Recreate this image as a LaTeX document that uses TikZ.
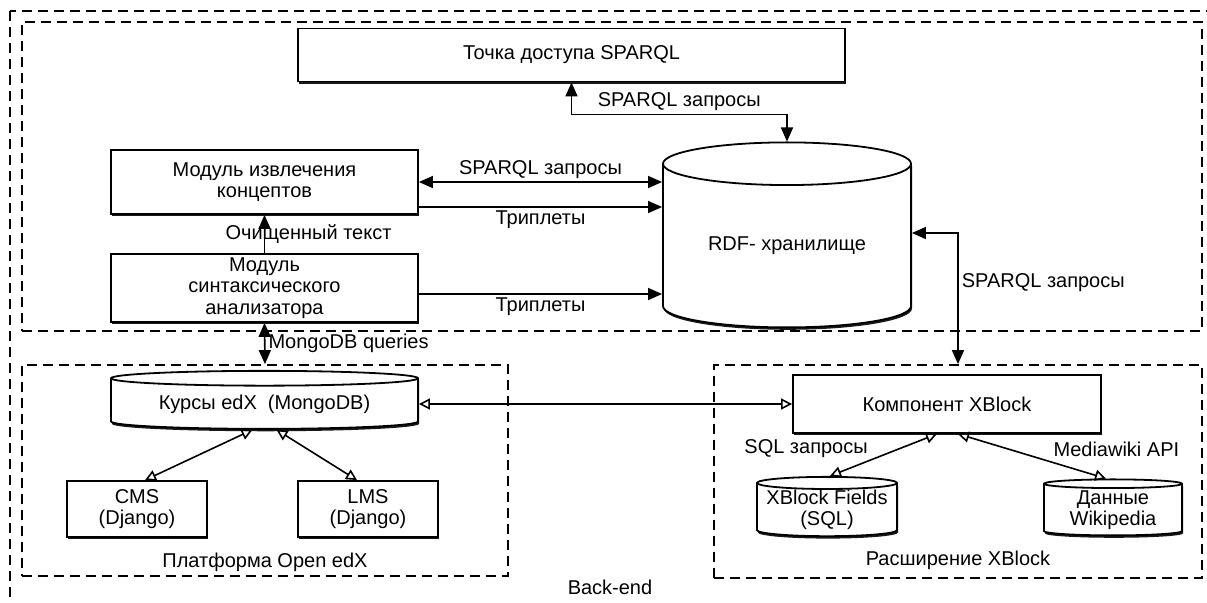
\documentclass[tikz,border=0pt]{standalone}
\usepackage{fontspec}
\setmainfont{Liberation Sans}
\usetikzlibrary{arrows.meta,shapes.geometric,shadows,calc}

\tikzset{
  block/.style={draw, line width=0.9pt, fill=white, align=center, inner sep=0pt,
    drop shadow={shadow xshift=0.5pt, shadow yshift=-1.2pt, opacity=0.9, fill=black}},
  store/.style={block, cylinder, shape border rotate=90},
  frame/.style={draw, line width=0.9pt, dash pattern=on 5pt off 3pt, inner sep=0pt},
  lbl/.style={inner sep=1.5pt},
  twoway/.style={line width=0.8pt, {Triangle[length=7pt,width=6pt]}-{Triangle[length=7pt,width=6pt]}},
  oneway/.style={line width=0.8pt, -{Triangle[length=7pt,width=6pt]}},
  hollow/.style={line width=0.8pt, {Triangle[open,length=5.5pt,width=5.5pt]}-{Triangle[open,length=5.5pt,width=5.5pt]}}
}

\begin{document}
\begin{tikzpicture}[x=0.5pt, y=-0.5pt, font=\fontsize{10}{10.8}\selectfont]
  \useasboundingbox (0,0) rectangle (1207,602);
  \clip (0,0) rectangle (1207,602);

  % frames
  \draw[frame] (10,11) rectangle (1240,640);
  \node[frame, minimum width=590pt, minimum height=154.5pt] (topframe) at (612,176.5) {};
  \node[frame, minimum width=243pt, minimum height=105.5pt] (edxframe) at (265,470.5) {};
  \node[frame, minimum width=244pt, minimum height=106.5pt] (xblframe) at (958,471.5) {};

  % upper part
  \node[block, minimum width=273.5pt, minimum height=26.5pt] (access) at (571.5,55) {Точка доступа SPARQL};
  \node[block, minimum width=153.5pt, minimum height=32pt] (concept) at (264.5,182) {Модуль извлечения\\концептов};
  \node[block, minimum width=153.5pt, minimum height=34pt] (parser) at (264.5,288) {Модуль\\синтаксического\\анализатора};
  \node[store, minimum width=124pt, minimum height=92.5pt, aspect=0.27] (rdf) at (787,246) {RDF- хранилище};

  % lower part
  \node[store, minimum width=153.5pt, minimum height=29pt, aspect=0.07] (mongo) at (264.5,404) {Курсы edX~~(MongoDB)};
  \node[block, minimum width=70pt, minimum height=28pt] (cms) at (137,509) {CMS\\(Django)};
  \node[block, minimum width=70pt, minimum height=28pt] (lms) at (368,509) {LMS\\(Django)};
  \node[block, minimum width=154pt, minimum height=29pt] (xblock) at (947,404) {Компонент XBlock};
  \node[store, minimum width=70pt, minimum height=28pt, aspect=0.1] (fields) at (827,510) {XBlock Fields\\(SQL)};
  \node[store, minimum width=69pt, minimum height=28pt, aspect=0.1] (wiki) at (1113,510) {Данные\\Wikipedia};

  \node[lbl, above=1pt] (edxname) at (edxframe.south) {Платформа Open edX};
  \node[lbl, above=3pt] (xblname) at (xblframe.south) {Расширение XBlock};
  \node[lbl] (backend) at (610,587) {Back-end};

  % connectors
  \draw[twoway] (access.south) -- ++(0,32) -| (rdf.north) node[lbl, pos=0.25, above] (q1) {SPARQL запросы};
  \draw[twoway] (concept.east) -- (concept.east -| rdf.west) node[lbl, midway, above] (q2) {SPARQL запросы};
  \draw[oneway] ($(concept.east)+(0,25)$) coordinate (t1) -- (t1 -| rdf.west) node[lbl, midway, below] (tr1) {Триплеты};
  \draw[oneway] ($(parser.east)+(0,6)$) coordinate (t2) -- (t2 -| rdf.west) node[lbl, midway, below] (tr2) {Триплеты};
  \draw[oneway] (parser.north) -- (concept.south) node[lbl, midway, xshift=22pt] (clean) {Очищенный текст};
  \draw[twoway] ($(rdf.east)+(0,-13)$) -| (xblframe.north) node[lbl, pos=0.69, right] (q3) {SPARQL запросы};
  \draw[twoway] (parser.south) -- (edxframe.north) node[lbl, midway, right] (mq) {MongoDB queries};

  \draw[hollow] (mongo.east) -- (xblock.west);
  \draw[hollow] ($(mongo.south)+(-12,0)$) -- ($(cms.north)+(8,0)$);
  \draw[hollow] ($(mongo.south)+(12,0)$) -- ($(lms.north)+(-11,0)$);
  \draw[hollow] ($(xblock.south)+(-10,0)$) -- ($(fields.north)+(3,0)$) node[lbl, pos=0.35, left=14pt] (sq) {SQL запросы};
  \draw[hollow] ($(xblock.south)+(11,0)$) -- ($(wiki.north)+(-7,0)$) node[lbl, pos=0.35, right=20pt] (mw) {Mediawiki API};
\end{tikzpicture}
\end{document}
